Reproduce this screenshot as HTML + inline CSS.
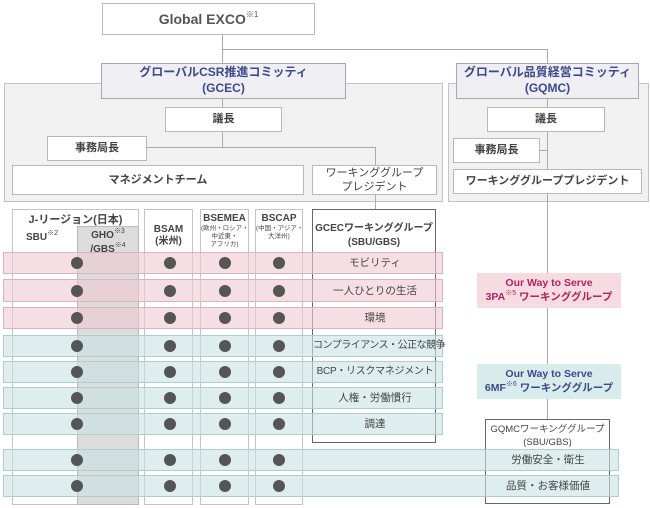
<!DOCTYPE html>
<html><head><meta charset="utf-8"><style>
*{margin:0;padding:0;box-sizing:border-box}
body{width:650px;height:508px;background:#fff;position:relative;overflow:hidden;font-family:"Liberation Sans","Noto Sans CJK JP",sans-serif;color:#444}
div{position:absolute}
.b{background:#fff;border:1px solid #b8b8b8;display:flex;align-items:center;justify-content:center;text-align:center;font-size:11px;font-weight:bold;line-height:1.3;white-space:nowrap}
.pan{background:#f1f1f1;border:1px solid #c4c4c4}
.com{background:#efeff3;border:1.5px solid #a4a4bc;color:#3b4a8c;font-size:12px}
.col{background:#fff;border:1px solid #c4c4c4;text-align:center;font-weight:bold;font-size:10px;line-height:1.2;white-space:nowrap}
.ln{background:#aaa}
.row{border:1px solid;font-size:10.5px;white-space:nowrap}
.pk{background:rgba(240,200,212,.6);border-color:#dbb3c0}
.tl{background:rgba(200,226,226,.6);border-color:#afcdcd}
.lab{position:absolute;width:124px;text-align:center;top:50%;transform:translateY(-50%);line-height:1}
.dot{position:absolute;width:12px;height:12px;border-radius:50%;background:#555;top:50%;margin-top:-6px}
sup{font-size:7px;font-weight:normal;vertical-align:5px;line-height:0}
</style></head><body>
<div class="ln" style="left:222px;top:35px;width:1px;height:28px"></div>
<div class="ln" style="left:222px;top:49px;width:326px;height:1px"></div>
<div class="ln" style="left:547px;top:49px;width:1px;height:14px"></div>

<div class="pan" style="left:4px;top:83px;width:439px;height:119px"></div>
<div class="pan" style="left:448px;top:83px;width:201px;height:119px"></div>

<div class="b" style="left:102px;top:3px;width:213px;height:32px;font-size:14px;color:#555"><span>Global EXCO<sup style="font-size:8px;vertical-align:7px">※1</sup></span></div>
<div class="b com" style="left:101px;top:63px;width:245px;height:36px"><span>グローバルCSR推進コミッティ<br>(GCEC)</span></div>
<div class="b com" style="left:456px;top:63px;width:183px;height:36px"><span>グローバル品質経営コミッティ<br>(GQMC)</span></div>

<div class="ln" style="left:222px;top:99px;width:1px;height:48px"></div>
<div class="ln" style="left:147px;top:147px;width:228px;height:1px"></div>
<div class="ln" style="left:375px;top:147px;width:1px;height:62px"></div>
<div class="ln" style="left:547px;top:99px;width:1px;height:320px"></div>
<div class="ln" style="left:540px;top:150px;width:7px;height:1px"></div>

<div class="b" style="left:165px;top:107px;width:117px;height:25px"><span>議長</span></div>
<div class="b" style="left:47px;top:136px;width:100px;height:25px"><span>事務局長</span></div>
<div class="b" style="left:12px;top:165px;width:292px;height:30px"><span>マネジメントチーム</span></div>
<div class="b" style="left:312px;top:165px;width:125px;height:30px;font-weight:normal"><span>ワーキンググループ<br>プレジデント</span></div>
<div class="b" style="left:487px;top:107px;width:118px;height:25px"><span>議長</span></div>
<div class="b" style="left:453px;top:138px;width:87px;height:25px"><span>事務局長</span></div>
<div class="b" style="left:453px;top:169px;width:189px;height:25px"><span>ワーキンググループプレジデント</span></div>

<div class="col" style="left:12px;top:209px;width:127px;height:296px"></div>
<div style="left:12px;top:211px;width:127px;text-align:center;font-size:11px;font-weight:bold">J-リージョン(日本)</div>
<div style="left:26px;top:232px;font-size:10px;font-weight:bold">SBU<sup>※2</sup></div>
<div style="left:77px;top:226px;width:62px;height:279px;background:#dcdcdc;border:1px solid #bbb"></div>
<div style="left:77px;top:229px;width:62px;text-align:center;font-size:10px;font-weight:bold;line-height:1.35;white-space:nowrap">GHO<sup>※3</sup><br>/GBS<sup>※4</sup></div>
<div class="col" style="left:144px;top:209px;width:49px;height:296px;padding-top:14px">BSAM<br>(米州)</div>
<div class="col" style="left:200px;top:209px;width:49px;height:296px;padding-top:3px">BSEMEA<br><span style="font-size:6.5px;display:block;line-height:1.25;font-weight:normal">(欧州・ロシア・<br>中近東・<br>アフリカ)</span></div>
<div class="col" style="left:255px;top:209px;width:48px;height:296px;padding-top:3px">BSCAP<br><span style="font-size:6.5px;display:block;line-height:1.25;font-weight:normal">(中国・アジア・<br>大洋州)</span></div>
<div class="col" style="left:312px;top:209px;width:124px;height:234px;border:1.5px solid #666;padding-top:12px;font-size:10px;line-height:1.4">GCECワーキンググループ<br>(SBU/GBS)</div>
<div class="col" style="left:485px;top:419px;width:125px;height:85px;border:1.5px solid #666;padding-top:3px;font-weight:normal;font-size:9.5px;line-height:1.4">GQMCワーキンググループ<br>(SBU/GBS)</div>

<div class="row pk" style="left:3px;top:252px;width:440px;height:22px"><span class="lab" style="left:309px">モビリティ</span><i class="dot" style="left:67px"></i><i class="dot" style="left:160px"></i><i class="dot" style="left:215px"></i><i class="dot" style="left:269px"></i></div>
<div class="row pk" style="left:3px;top:279px;width:440px;height:23px"><span class="lab" style="left:309px">一人ひとりの生活</span><i class="dot" style="left:67px"></i><i class="dot" style="left:160px"></i><i class="dot" style="left:215px"></i><i class="dot" style="left:269px"></i></div>
<div class="row pk" style="left:3px;top:307px;width:440px;height:22px"><span class="lab" style="left:309px">環境</span><i class="dot" style="left:67px"></i><i class="dot" style="left:160px"></i><i class="dot" style="left:215px"></i><i class="dot" style="left:269px"></i></div>
<div class="row tl" style="left:3px;top:335px;width:440px;height:22px"><span class="lab" style="left:309px;font-size:10px;letter-spacing:-0.5px">コンプライアンス・公正な競争</span><i class="dot" style="left:67px"></i><i class="dot" style="left:160px"></i><i class="dot" style="left:215px"></i><i class="dot" style="left:269px"></i></div>
<div class="row tl" style="left:3px;top:361px;width:440px;height:22px"><span class="lab" style="left:309px;font-size:10px;letter-spacing:-0.3px">BCP・リスクマネジメント</span><i class="dot" style="left:67px"></i><i class="dot" style="left:160px"></i><i class="dot" style="left:215px"></i><i class="dot" style="left:269px"></i></div>
<div class="row tl" style="left:3px;top:387px;width:440px;height:22px"><span class="lab" style="left:309px">人権・労働慣行</span><i class="dot" style="left:67px"></i><i class="dot" style="left:160px"></i><i class="dot" style="left:215px"></i><i class="dot" style="left:269px"></i></div>
<div class="row tl" style="left:3px;top:413px;width:440px;height:22px"><span class="lab" style="left:309px">調達</span><i class="dot" style="left:67px"></i><i class="dot" style="left:160px"></i><i class="dot" style="left:215px"></i><i class="dot" style="left:269px"></i></div>
<div class="row tl" style="left:3px;top:449px;width:616px;height:22px"><span class="lab" style="left:482px">労働安全・衛生</span><i class="dot" style="left:67px"></i><i class="dot" style="left:160px"></i><i class="dot" style="left:215px"></i><i class="dot" style="left:269px"></i></div>
<div class="row tl" style="left:3px;top:475px;width:616px;height:22px"><span class="lab" style="left:482px">品質・お客様価値</span><i class="dot" style="left:67px"></i><i class="dot" style="left:160px"></i><i class="dot" style="left:215px"></i><i class="dot" style="left:269px"></i></div>

<div class="b" style="left:477px;top:273px;width:144px;height:35px;background:#f6dbe3;border:none;color:#b0245c;font-size:10.5px"><span>Our Way to Serve<br>3PA<sup>※5</sup> ワーキンググループ</span></div>
<div class="b" style="left:477px;top:364px;width:144px;height:35px;background:#d9ecec;border:none;color:#3b4a8c;font-size:10.5px"><span>Our Way to Serve<br>6MF<sup>※6</sup> ワーキンググループ</span></div>
</body></html>
